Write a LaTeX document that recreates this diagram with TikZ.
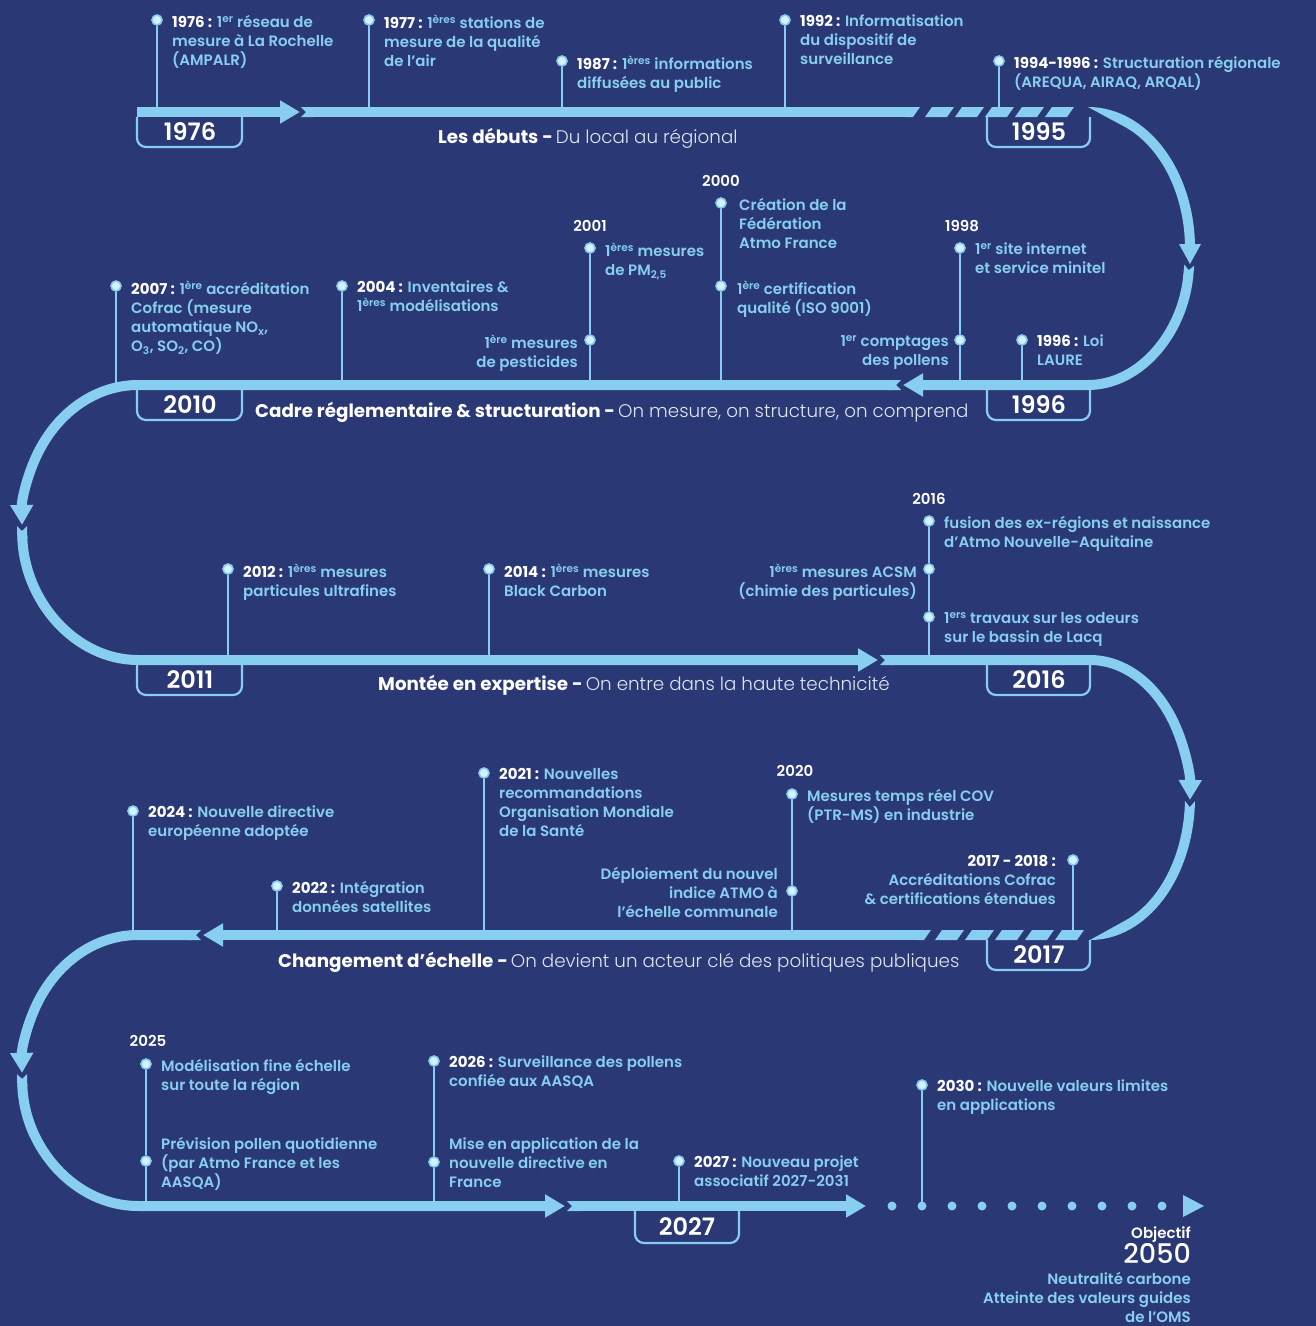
\documentclass[tikz,border=0pt]{standalone}
\usepackage{fontspec}
\setmainfont{Poppins}
\newfontfamily\medfont{Poppins Medium}
\newfontfamily\semifont{Poppins SemiBold}
\newfontfamily\boldfont{Poppins Bold}
\newfontfamily\lightfont{Poppins Light}
\usetikzlibrary{arrows.meta}

\definecolor{navy}{RGB}{42,57,118}
\definecolor{sky}{RGB}{135,206,240}
\definecolor{pale}{RGB}{214,240,252}
\definecolor{haze}{RGB}{222,228,240}

\newcommand{\yr}[1]{{\boldfont\color{white}#1}}
\newcommand{\supr}[1]{\textsuperscript{#1}}
\newcommand{\subr}[1]{\textsubscript{#1}}
\newcommand{\evtfont}{\semifont\fontsize{15}{19}\selectfont}
\newcommand{\headfont}{\semifont\fontsize{15}{19}\selectfont}

\begin{document}
\begin{tikzpicture}[x=1pt, y=-1pt,
  track/.style={sky, line width=10pt},
  seghead/.style={track, -{Triangle[length=20pt, width=22pt]}},
  segnotch/.style={track, {Triangle Cap[reversed]}-},
  segboth/.style={track, {Triangle Cap[reversed]}-{Triangle[length=20pt, width=22pt]}},
  stem/.style={sky, line width=1.3pt},
  dot/.style={circle, fill=pale, draw=sky, line width=1.6pt, minimum size=10pt, inner sep=0pt},
  evt/.style={anchor=north west, align=left, inner sep=0pt, yshift=-4pt, text=sky, font=\evtfont, execute at begin node=\strut},
  evtl/.style={evt, anchor=north east, align=right},
  head/.style={inner sep=0pt, text=white, font=\headfont},
  yearbox/.style={sky, line width=2.2pt, rounded corners=9pt},
  yeartxt/.style={inner sep=0pt, text=white, font=\semifont\fontsize{24}{24}\selectfont},
  title/.style={anchor=base west, inner sep=0pt, text=white, font=\boldfont\fontsize{18.3}{22}\selectfont}]

\useasboundingbox (0,0) rectangle (1316,1326);
\fill[navy] (0,0) rectangle (1316,1326);

\coordinate (r1) at (0,112);
\coordinate (r2) at (0,385);
\coordinate (r3) at (0,660);
\coordinate (r4) at (0,935);
\coordinate (r5) at (0,1206);

% Les debuts
\node[dot] (d1976) at (157,20) {};
\node[evt] (n1976) at (172,11) {\yr{1976 :} 1\supr{er} réseau de\\ mesure à La Rochelle\\ (AMPALR)};
\node[dot] (d1977) at (369,20) {};
\node[evt] (n1977) at (384,11) {\yr{1977 :} 1\supr{ères} stations de\\ mesure de la qualité\\ de l’air};
\node[dot] (d1987) at (562,61) {};
\node[evt] (n1987) at (577,52) {\yr{1987 :} 1\supr{ères} informations\\ diffusées au public};
\node[dot] (d1992) at (785,20) {};
\node[evt] (n1992) at (800,11) {\yr{1992 :} Informatisation\\ du dispositif de\\ surveillance};
\node[dot] (d1994) at (999,61) {};
\node[evt] (n1994) at (1014,52) {\yr{1994-1996 :} Structuration régionale\\ (AREQUA, AIRAQ, ARQAL)};

% Cadre reglementaire
\node[dot] (d2007) at (116,286) {};
\node[evt] (n2007) at (131,277) {\yr{2007 :} 1\supr{ère} accréditation\\ Cofrac (mesure\\ automatique NO\subr{x},\\ O\subr{3}, SO\subr{2}, CO)};
\node[dot] (d2004) at (342,286) {};
\node[evt] (n2004) at (357,277) {\yr{2004 :} Inventaires \&\\ 1\supr{ères} modélisations};
\node[head] (h2001) at (590,226) {2001};
\node[dot] (d2001a) at (590,248) {};
\node[evt] (n2001a) at (605,239) {1\supr{ères} mesures\\ de PM\subr{2,5}};
\node[dot] (d2001b) at (590,340) {};
\node[evtl] (n2001b) at (578,331) {1\supr{ère} mesures\\ de pesticides};
\node[head] (h2000) at (721,181) {2000};
\node[dot] (d2000a) at (721,203) {};
\node[evt] (n2000a) at (739,194) {Création de la\\ Fédération\\ Atmo France};
\node[dot] (d2000b) at (721,286) {};
\node[evt] (n2000b) at (737,277) {1\supr{ère} certification\\ qualité (ISO 9001)};
\node[head] (h1998) at (962,226) {1998};
\node[dot] (d1998a) at (960,248) {};
\node[evt] (n1998a) at (975,239) {1\supr{er} site internet\\ et service minitel};
\node[dot] (d1998b) at (960,340) {};
\node[evtl] (n1998b) at (949,331) {1\supr{er} comptages\\ des pollens};
\node[dot] (d1996) at (1022,340) {};
\node[evt] (n1996) at (1037,331) {\yr{1996 :} Loi\\ LAURE};

% Montee en expertise
\node[dot] (d2012) at (228,569) {};
\node[evt] (n2012) at (243,560) {\yr{2012 :} 1\supr{ères} mesures\\ particules ultrafines};
\node[dot] (d2014) at (489,569) {};
\node[evt] (n2014) at (504,560) {\yr{2014 :} 1\supr{ères} mesures\\ Black Carbon};
\node[head] (h2016) at (929,499) {2016};
\node[dot] (d2016a) at (929,521) {};
\node[evt] (n2016a) at (944,512) {fusion des ex-régions et naissance\\ d’Atmo Nouvelle-Aquitaine};
\node[dot] (d2016b) at (929,569) {};
\node[evtl] (n2016b) at (917,560) {1\supr{ères} mesures ACSM\\ (chimie des particules)};
\node[dot] (d2016c) at (929,617) {};
\node[evt] (n2016c) at (944,608) {1\supr{ers} travaux sur les odeurs\\ sur le bassin de Lacq};

% Changement d'echelle
\node[dot] (d2024) at (133,811) {};
\node[evt] (n2024) at (148,802) {\yr{2024 :} Nouvelle directive\\ européenne adoptée};
\node[dot] (d2022) at (277,886) {};
\node[evt] (n2022) at (292,877) {\yr{2022 :} Intégration\\ données satellites};
\node[dot] (d2021) at (484,773) {};
\node[evt] (n2021) at (499,764) {\yr{2021 :} Nouvelles\\ recommandations\\ Organisation Mondiale\\ de la Santé};
\node[head] (h2020) at (795,771) {2020};
\node[dot] (d2020a) at (792,794) {};
\node[evt] (n2020a) at (807,785) {Mesures temps réel COV\\ (PTR-MS) en industrie};
\node[dot] (d2020b) at (792,891) {};
\node[evtl] (n2020b) at (778,863) {Déploiement du nouvel\\ indice ATMO à\\ l’échelle communale};
\node[dot] (d2017) at (1073,860) {};
\node[evtl] (n2017) at (1056,851) {\yr{2017 - 2018 :}\\ Accréditations Cofrac\\ \& certifications étendues};

% vers 2050
\node[head] (h2025) at (148,1041) {2025};
\node[dot] (d2025a) at (146,1064) {};
\node[evt] (n2025a) at (161,1055) {Modélisation fine échelle\\ sur toute la région};
\node[dot] (d2025b) at (146,1161) {};
\node[evt] (n2025b) at (161,1133) {Prévision pollen quotidienne\\ (par Atmo France et les\\ AASQA)};
\node[dot] (d2026a) at (434,1061) {};
\node[evt] (n2026a) at (449,1052) {\yr{2026 :} Surveillance des pollens\\ confiée aux AASQA};
\node[dot] (d2026b) at (434,1162) {};
\node[evt] (n2026b) at (449,1134) {Mise en application de la\\ nouvelle directive en\\ France};
\node[dot] (d2027) at (679,1161) {};
\node[evt] (n2027) at (694,1152) {\yr{2027 :} Nouveau projet\\ associatif 2027-2031};
\node[dot] (d2030) at (922,1085) {};
\node[evt] (n2030) at (937,1076) {\yr{2030 :} Nouvelle valeurs limites\\ en applications};

\node[anchor=base east, inner sep=0pt, text=white, font=\semifont\fontsize{15}{18}\selectfont] (obj) at (1191,1238) {Objectif};
\node[anchor=base east, inner sep=0pt, text=white, font=\medfont\fontsize{27}{27}\selectfont] (y2050) at (1191,1263) {2050};
\node[evtl] (n2050) at (1191,1268) {Neutralité carbone\\ Atteinte des valeurs guides\\ de l’OMS};

% stems
\draw[stem] (d1976) -- (d1976 |- r1);
\draw[stem] (d1977) -- (d1977 |- r1);
\draw[stem] (d1987) -- (d1987 |- r1);
\draw[stem] (d1992) -- (d1992 |- r1);
\draw[stem] (d1994) -- (d1994 |- r1);
\draw[stem] (d2007) -- (d2007 |- r2);
\draw[stem] (d2004) -- (d2004 |- r2);
\draw[stem] (d2001a) -- (d2001b) -- (d2001b |- r2);
\draw[stem] (d2000a) -- (d2000b) -- (d2000b |- r2);
\draw[stem] (d1998a) -- (d1998b) -- (d1998b |- r2);
\draw[stem] (d1996) -- (d1996 |- r2);
\draw[stem] (d2012) -- (d2012 |- r3);
\draw[stem] (d2014) -- (d2014 |- r3);
\draw[stem] (d2016a) -- (d2016b) -- (d2016c) -- (d2016c |- r3);
\draw[stem] (d2024) -- (d2024 |- r4);
\draw[stem] (d2022) -- (d2022 |- r4);
\draw[stem] (d2021) -- (d2021 |- r4);
\draw[stem] (d2020a) -- (d2020b) -- (d2020b |- r4);
\draw[stem] (d2017) -- (d2017 |- r4);
\draw[stem] (d2025a) -- (d2025b) -- (d2025b |- r5);
\draw[stem] (d2026a) -- (d2026b) -- (d2026b |- r5);
\draw[stem] (d2027) -- (d2027 |- r5);
\draw[stem] (d2030) -- (d2030 |- r5);

% row 1
\draw[seghead] (137,112) -- (300,112);
\draw[segnotch] (301,112) -- (907,112);
\fill[sky] (906,107) -- (920,107) -- (913,117) -- (906,117) -- cycle;
\foreach \x in {925,955,985,1015,1045}
  \fill[sky] (\x,117) -- (\x+22,117) -- (\x+29,107) -- (\x+7,107) -- cycle;
\fill[sky] (1088,107) arc[start angle=-90, end angle=0, x radius=107, y radius=141.5]
  -- (1185,248.5) arc[start angle=0, end angle=-70, x radius=97, y radius=131.5] -- cycle;
\fill[sky] (1179,244) -- (1201,244) -- (1190,264) -- cycle;

% row 2
\draw[segboth] ({1088+102*cos(7)},{248.5+136.5*sin(7)})
  arc[start angle=7, end angle=90, x radius=102, y radius=136.5] -- (903,385);
\draw[segboth] (901,385) -- (138,385)
  arc[start angle=-90, end angle=-181, x radius=116, y radius=137.5];

% row 3
\draw[segboth] ({138+116*cos(-181.5)},{522.5+137.5*sin(-181.5)})
  arc[start angle=-181.5, end angle=-270, x radius=116, y radius=137.5] -- (878,660);
\draw[segboth] (880,660) -- (1090,660)
  arc[start angle=-90, end angle=1, x radius=100, y radius=137.5];
\fill[sky] ({1090+95*cos(1.5)},{797.5+132.5*sin(1.5)})
  -- ({1090+100*cos(4)},{797.5+137.5*sin(4)})
  -- ({1090+105*cos(1.5)},{797.5+142.5*sin(1.5)})
  arc[start angle=1.5, end angle=90, x radius=105, y radius=142.5]
  -- ({1090+95*cos(70)},{797.5+132.5*sin(70)})
  arc[start angle=70, end angle=1.5, x radius=95, y radius=132.5] -- cycle;

% row 4
\foreach \x in {935,965,995,1025,1055}
  \fill[sky] (\x,940) -- (\x+22,940) -- (\x+29,930) -- (\x+7,930) -- cycle;
\fill[sky] (917,930) -- (931,930) -- (924,940) -- (917,940) -- cycle;
\draw[seghead] (918,935) -- (203,935);
\draw[segboth] (201,935) -- (138,935)
  arc[start angle=-90, end angle=-181, x radius=116, y radius=135.5];

% row 5
\draw[segboth] ({138+116*cos(-181.5)},{1070.5+135.5*sin(-181.5)})
  arc[start angle=-181.5, end angle=-270, x radius=116, y radius=135.5] -- (565,1206);
\draw[segboth] (567,1206) -- (866,1206);
\foreach \x in {892,922,...,1162}
  \fill[sky] (\x,1206) circle[radius=4.5pt];
\fill[sky] (1183,1195) -- (1204,1206) -- (1183,1217) -- cycle;

% year boxes
\draw[yearbox] (137,117) -- (137,147) -- (242,147) -- (242,117);
\node[yeartxt] (y1976) at (190,132) {1976};
\draw[yearbox] (987,117) -- (987,147) -- (1090,147) -- (1090,117);
\node[yeartxt] (y1995) at (1039,132) {1995};
\draw[yearbox] (137,390) -- (137,420) -- (242,420) -- (242,390);
\node[yeartxt] (y2010) at (190,405) {2010};
\draw[yearbox] (987,390) -- (987,420) -- (1090,420) -- (1090,390);
\node[yeartxt] (y1996) at (1039,405) {1996};
\draw[yearbox] (137,665) -- (137,695) -- (242,695) -- (242,665);
\node[yeartxt] (y2011) at (190,680) {2011};
\draw[yearbox] (987,665) -- (987,695) -- (1090,695) -- (1090,665);
\node[yeartxt] (y2016) at (1039,680) {2016};
\draw[yearbox] (987,940) -- (987,970) -- (1090,970) -- (1090,940);
\node[yeartxt] (y2017) at (1039,955) {2017};
\draw[yearbox] (635,1211) -- (635,1243) -- (739,1243) -- (739,1211);
\node[yeartxt] (y2027) at (687,1227) {2027};

% titres
\node[title] (t1) at (438,143) {Les débuts -\,{\lightfont\color{haze} Du local au régional}};
\node[title] (t2) at (255,417) {Cadre réglementaire \& structuration -\,{\lightfont\color{haze} On mesure, on structure, on comprend}};
\node[title] (t3) at (378,690) {Montée en expertise -\,{\lightfont\color{haze} On entre dans la haute technicité}};
\node[title] (t4) at (278,967) {Changement d’échelle -\,{\lightfont\color{haze} On devient un acteur clé des politiques publiques}};
\end{tikzpicture}
\end{document}
